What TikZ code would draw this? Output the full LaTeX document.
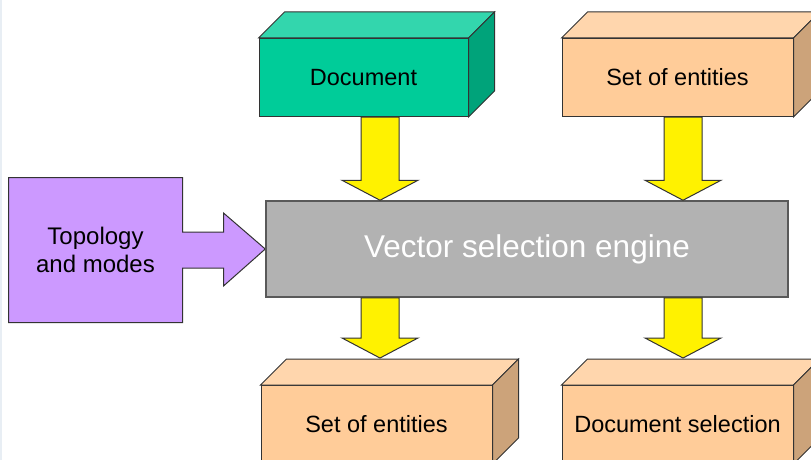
\documentclass[tikz,border=0pt]{standalone}
\usepackage{fontspec}
\setmainfont{Liberation Sans}
\usetikzlibrary{calc, backgrounds}

\definecolor{docfront}{HTML}{00CC99}
\definecolor{doctop}{HTML}{33D6AD}
\definecolor{docside}{HTML}{00A37A}
\definecolor{peachfront}{HTML}{FFCC99}
\definecolor{peachtop}{HTML}{FFD6AD}
\definecolor{peachside}{HTML}{CCA37A}
\definecolor{topofill}{HTML}{CC99FF}
\definecolor{enginefill}{HTML}{B2B2B2}
\definecolor{engineline}{HTML}{595959}
\definecolor{leftstrip}{HTML}{E8EEF4}

\tikzset{
  frontbox/.style={draw=black!80, inner sep=0pt, minimum height=78pt,
    font=\fontsize{23.5}{28}\selectfont},
  yellowarrow/.style={draw=black!80, fill=yellow}
}

\begin{document}
\begin{tikzpicture}[x=1pt, y=-1pt, line width=1pt]
    \clip (0,0) rectangle (811,460);
    \fill[leftstrip] (0,0) rectangle (2,460);

    % front faces of the boxes
    \node[frontbox, fill=docfront, minimum width=209pt] (doc) at (363.5,77.5) {Document};
    \node[frontbox, fill=peachfront, minimum width=231pt] (ents) at (677.5,77.5) {Set of entities};
    \node[frontbox, fill=peachfront, minimum width=231pt] (outents) at (376.5,424.5) {Set of entities};
    \node[frontbox, fill=peachfront, minimum width=231pt] (outsel) at (677.5,424.5) {Document selection};

    % top and side faces
    \foreach \b/\t/\s in {doc/doctop/docside, ents/peachtop/peachside,
                          outents/peachtop/peachside, outsel/peachtop/peachside} {
      \draw[draw=black!80, fill=\t] (\b.north west) -- ++(26,-26)
        -- ($(\b.north east)+(26,-26)$) -- (\b.north east) -- cycle;
      \draw[draw=black!80, fill=\s] (\b.north east) -- ++(26,-26)
        -- ($(\b.south east)+(26,-26)$) -- (\b.south east) -- cycle;
    }

    % engine
    \node[draw=engineline, line width=1.5pt, fill=enginefill, inner sep=0pt,
          minimum width=522pt, minimum height=96pt, text=white,
          font=\fontsize{31.5}{38}\selectfont] (engine) at (527,249) {\raisebox{-3pt}{Vector selection engine}};

    % topology box with its arrow
    \node[align=center, inner sep=0pt, minimum width=173pt, minimum height=144pt,
          font=\fontsize{24}{28.5}\selectfont] (topo) at (95.5,250) {Topology\\and modes};
    \begin{scope}[on background layer]
      \draw[draw=black!80, line width=1pt, fill=topofill] (topo.north west) -- (topo.north east)
        -- ($(topo.east)+(0,-18)$) -- ($(topo.east)+(41,-18)$) -- ($(topo.east)+(41,-37)$)
        -- (engine.west) -- ($(topo.east)+(41,36)$) -- ($(topo.east)+(41,18)$)
        -- ($(topo.east)+(0,18)$) -- (topo.south east) -- (topo.south west) -- cycle;
    \end{scope}

    % yellow arrows
    \coordinate (a1s) at ([xshift=16.5pt]doc.south);
    \coordinate (a1t) at (a1s |- engine.north);
    \coordinate (a2s) at ([xshift=5.5pt]ents.south);
    \coordinate (a2t) at (a2s |- engine.north);
    \coordinate (b1s) at (a1s |- engine.south);
    \coordinate (b1t) at ([yshift=27pt]outents.north -| a1s);
    \coordinate (b2s) at (a2s |- engine.south);
    \coordinate (b2t) at ([yshift=27pt]outsel.north -| a2s);
    \foreach \s/\t in {a1s/a1t, a2s/a2t, b1s/b1t, b2s/b2t} {
      \draw[yellowarrow] ($(\s)+(-19,0)$) -- ($(\t)+(-19,-20)$) -- ($(\t)+(-38,-20)$)
        -- (\t) -- ($(\t)+(38,-20)$) -- ($(\t)+(19,-20)$) -- ($(\s)+(19,0)$) -- cycle;
    }
\end{tikzpicture}
\end{document}
